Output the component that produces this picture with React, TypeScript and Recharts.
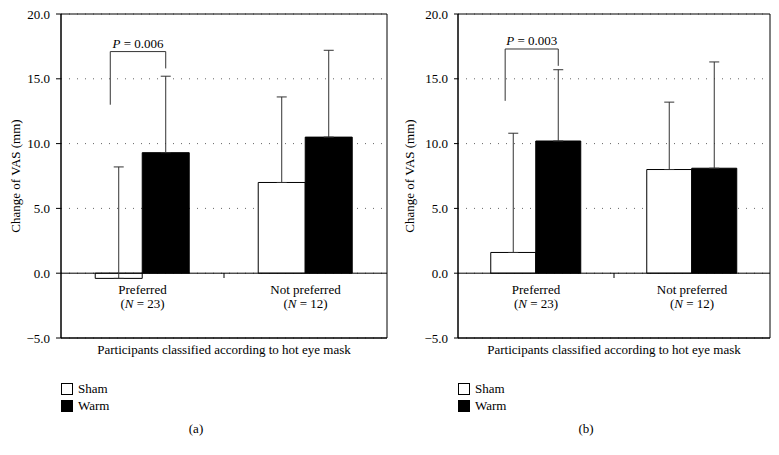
import React from "react";
import { BarChart, Bar, XAxis, YAxis, CartesianGrid, ReferenceLine, ReferenceArea, ErrorBar } from "recharts";

const CATEGORIES = ["Preferred", "Not preferred"];
const GROUP_N = [23, 12];
const Y_TICKS = [-5, 0, 5, 10, 15, 20];

// panel (a)
const SHAM_A = [-0.4, 7.0];
const SHAM_A_ERR = [8.6, 6.6];
const WARM_A = [9.3, 10.5];
const WARM_A_ERR = [5.9, 6.7];

// panel (b)
const SHAM_B = [1.6, 8.0];
const SHAM_B_ERR = [9.2, 5.2];
const WARM_B = [10.2, 8.1];
const WARM_B_ERR = [5.5, 8.2];

// significance bracket: left foot, top, right foot (mm)
const BRACKET_A = [13.0, 17.1, 15.8];
const BRACKET_B = [13.3, 17.3, 16.0];

const FONT = "'Liberation Serif', 'Times New Roman', serif";

const fmt = (v: number) => (v < 0 ? "\u2212" + Math.abs(v).toFixed(1) : v.toFixed(1));

const CatTick = (props: any) => {
  const { x, y, payload, index, band } = props;
  const i = payload?.index ?? index;
  const half = band / 2;
  return (
    <g>
      {i === 0 && <line x1={x + half} x2={x + half} y1={y - 65} y2={y - 60} stroke="#000" />}
      <text x={x} y={y - 44} textAnchor="middle" fontSize={13} fontFamily={FONT}>
        {payload.value}
      </text>
      <text x={x} y={y - 30} textAnchor="middle" fontSize={13} fontFamily={FONT}>
        (<tspan fontStyle="italic">N</tspan> = {GROUP_N[i]})
      </text>
    </g>
  );
};

function Bracket({ vb, value, levels, p }: any) {
  const { x, y, width, height } = vb;
  const unit = height / value;
  const zero = y + height;
  const py = (v: number) => zero - v * unit;
  const xr = x + width / 2;
  const xl = x - width * 0.68;
  const [lo, top, ro] = levels;
  return (
    <g>
      <polyline
        points={`${xl},${py(lo)} ${xl},${py(top)} ${xr},${py(top)} ${xr},${py(ro)}`}
        fill="none"
        stroke="#333"
      />
      <text x={(xl + xr) / 2} y={py(top) - 4} textAnchor="middle" fontSize={13} fontFamily={FONT}>
        <tspan fontStyle="italic">P</tspan> = {p}
      </text>
    </g>
  );
}

type PanelProps = {
  left: number;
  width: number;
  yW: number;
  right: number;
  tickSize: number;
  labelX: number;
  caption: string;
  sham: number[];
  shamErr: number[];
  warm: number[];
  warmErr: number[];
  bracket: number[];
  p: string;
};

function Panel(props: PanelProps) {
  const { left, width, yW, right, tickSize, labelX, caption, sham, shamErr, warm, warmErr, bracket, p } = props;
  const data = CATEGORIES.map((name, i) => ({
    name,
    sham: sham[i],
    shamErr: [0, shamErr[i]],
    warm: warm[i],
    warmErr: [0, warmErr[i]],
  }));
  const band = (width - yW - right) / CATEGORIES.length;

  return (
    <div style={{ position: "absolute", left, top: 0, width, height: 455 }}>
      <BarChart
        width={width}
        height={365}
        data={data}
        margin={{ top: 14, right, bottom: 0, left: 0 }}
        barGap={0}
        barCategoryGap="21%"
      >
        <CartesianGrid vertical={false} stroke="#666" strokeDasharray="1 7" />
        <XAxis
          dataKey="name"
          height={27}
          interval={0}
          tickSize={0}
          tickMargin={0}
          tickLine={false}
          axisLine={{ stroke: "#000" }}
          tick={<CatTick band={band} />}
          label={{
            value: "Participants classified according to hot eye mask",
            position: "insideBottom",
            offset: 11,
            fontSize: 13,
            fill: "#000",
          }}
        />
        <YAxis
          width={yW}
          domain={[-5, 20]}
          ticks={Y_TICKS}
          interval={0}
          tickFormatter={fmt}
          tickSize={tickSize}
          tickMargin={6}
          tickLine={{ stroke: "#000" }}
          axisLine={{ stroke: "#000" }}
          tick={{ fontSize: 13, fill: "#000", fontFamily: FONT }}
          label={{
            value: "Change of VAS (mm)",
            angle: -90,
            position: "insideLeft",
            offset: labelX,
            fontSize: 13,
            fill: "#000",
            style: { textAnchor: "middle" },
          }}
        />
        <ReferenceArea y1={-5} y2={20} fill="none" fillOpacity={0} stroke="#000" strokeWidth={1} />
        <ReferenceLine y={0} stroke="#000" />
        <Bar dataKey="sham" fill="#fff" stroke="#000" strokeWidth={1} isAnimationActive={false}>
          <ErrorBar dataKey="shamErr" direction="y" width={5} stroke="#333" strokeWidth={1} />
        </Bar>
        <Bar
          dataKey="warm"
          fill="#000"
          stroke="#000"
          strokeWidth={1}
          isAnimationActive={false}
          label={(lp: any) => {
            const vb = lp.viewBox && lp.viewBox.width != null ? lp.viewBox : lp;
            if (lp.index !== 0) return <g />;
            return <Bracket vb={vb} value={warm[0]} levels={bracket} p={p} />;
          }}
        >
          <ErrorBar dataKey="warmErr" direction="y" width={5} stroke="#333" strokeWidth={1} />
        </Bar>
      </BarChart>

      {[
        { name: "Sham", fill: "#fff", top: 383 },
        { name: "Warm", fill: "#000", top: 400 },
      ].map((l) => (
        <div key={l.name} style={{ position: "absolute", left: yW, top: l.top, height: 12, display: "flex", alignItems: "center" }}>
          <span style={{ width: 10, height: 10, border: "1px solid #000", background: l.fill, display: "inline-block" }} />
          <span style={{ marginLeft: 5, fontSize: 13, lineHeight: "12px" }}>{l.name}</span>
        </div>
      ))}
      <div style={{ position: "absolute", left: 166, width: 60, top: 421, textAlign: "center", fontSize: 13, lineHeight: "16px" }}>
        {caption}
      </div>
    </div>
  );
}

export default function App() {
  return (
    <div
      style={{
        position: "absolute",
        left: 0,
        top: 0,
        width: 779,
        height: 455,
        background: "#fff",
        color: "#000",
        fontFamily: FONT,
      }}
    >
      <Panel
        left={0}
        width={390}
        yW={61}
        right={3}
        tickSize={5}
        labelX={15}
        caption="(a)"
        sham={SHAM_A}
        shamErr={SHAM_A_ERR}
        warm={WARM_A}
        warmErr={WARM_A_ERR}
        bracket={BRACKET_A}
        p="0.006"
      />
      <Panel
        left={390}
        width={389}
        yW={68}
        right={9}
        tickSize={4}
        labelX={19}
        caption="(b)"
        sham={SHAM_B}
        shamErr={SHAM_B_ERR}
        warm={WARM_B}
        warmErr={WARM_B_ERR}
        bracket={BRACKET_B}
        p="0.003"
      />
    </div>
  );
}
